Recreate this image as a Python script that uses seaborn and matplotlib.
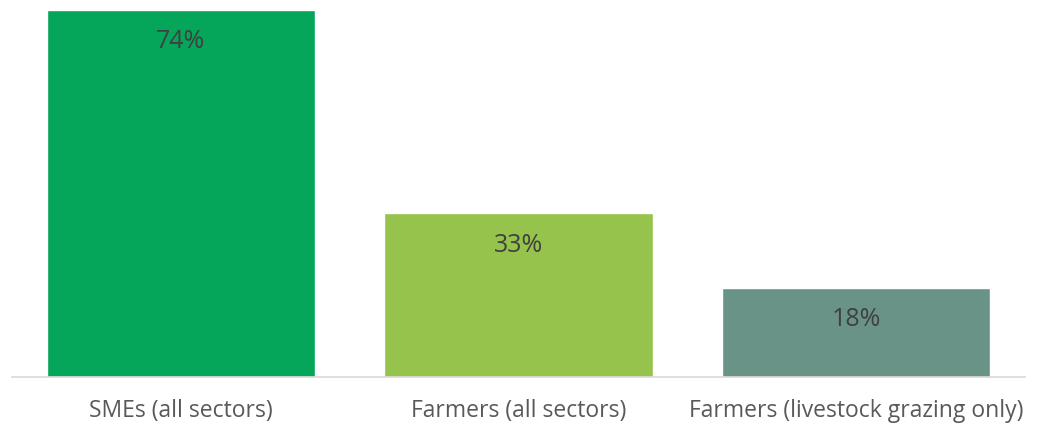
import matplotlib
matplotlib.use("Agg")
import matplotlib.pyplot as plt
import pandas as pd
import seaborn as sns

# chart data
CATEGORIES = ["SMEs (all sectors)", "Farmers (all sectors)", "Farmers (livestock grazing only)"]
VALUES = [74, 33, 18]
VALUE_LABELS = ["74%", "33%", "18%"]
COLORS = ["#05A55A", "#96C34B", "#6A9387"]

df = pd.DataFrame({"group": CATEGORIES, "share": VALUES})

sns.set_theme(style="white")
plt.rcParams["font.family"] = ["Open Sans", "DejaVu Sans"]

fig = plt.figure(figsize=(10.42, 4.24), dpi=100)
ax = fig.add_axes([12 / 1042, 47 / 424, 1013 / 1042, 372 / 424])

sns.barplot(
    data=df,
    x="group",
    y="share",
    hue="group",
    palette=COLORS,
    order=CATEGORIES,
    width=0.795,
    saturation=1,
    legend=False,
    ax=ax,
)

ax.set_xlim(-0.5, 2.5)
ax.set_ylim(0, 75)

# value labels inside the bars, near the top
for i, (v, lab) in enumerate(zip(VALUES, VALUE_LABELS)):
    ax.annotate(lab, xy=(i, v), xytext=(0, -23),
                textcoords="offset points", ha="center", va="center",
                fontsize=18, color="#404040")

ax.set_xlabel("")
ax.set_ylabel("")
ax.set_yticks([])
ax.tick_params(axis="x", length=0, pad=16, labelsize=16.5, labelcolor="#595959")
for s in ["top", "right", "left"]:
    ax.spines[s].set_visible(False)
ax.spines["bottom"].set_color("#D9D9D9")
ax.spines["bottom"].set_linewidth(1.2)

plt.savefig("out.png", dpi=100)
